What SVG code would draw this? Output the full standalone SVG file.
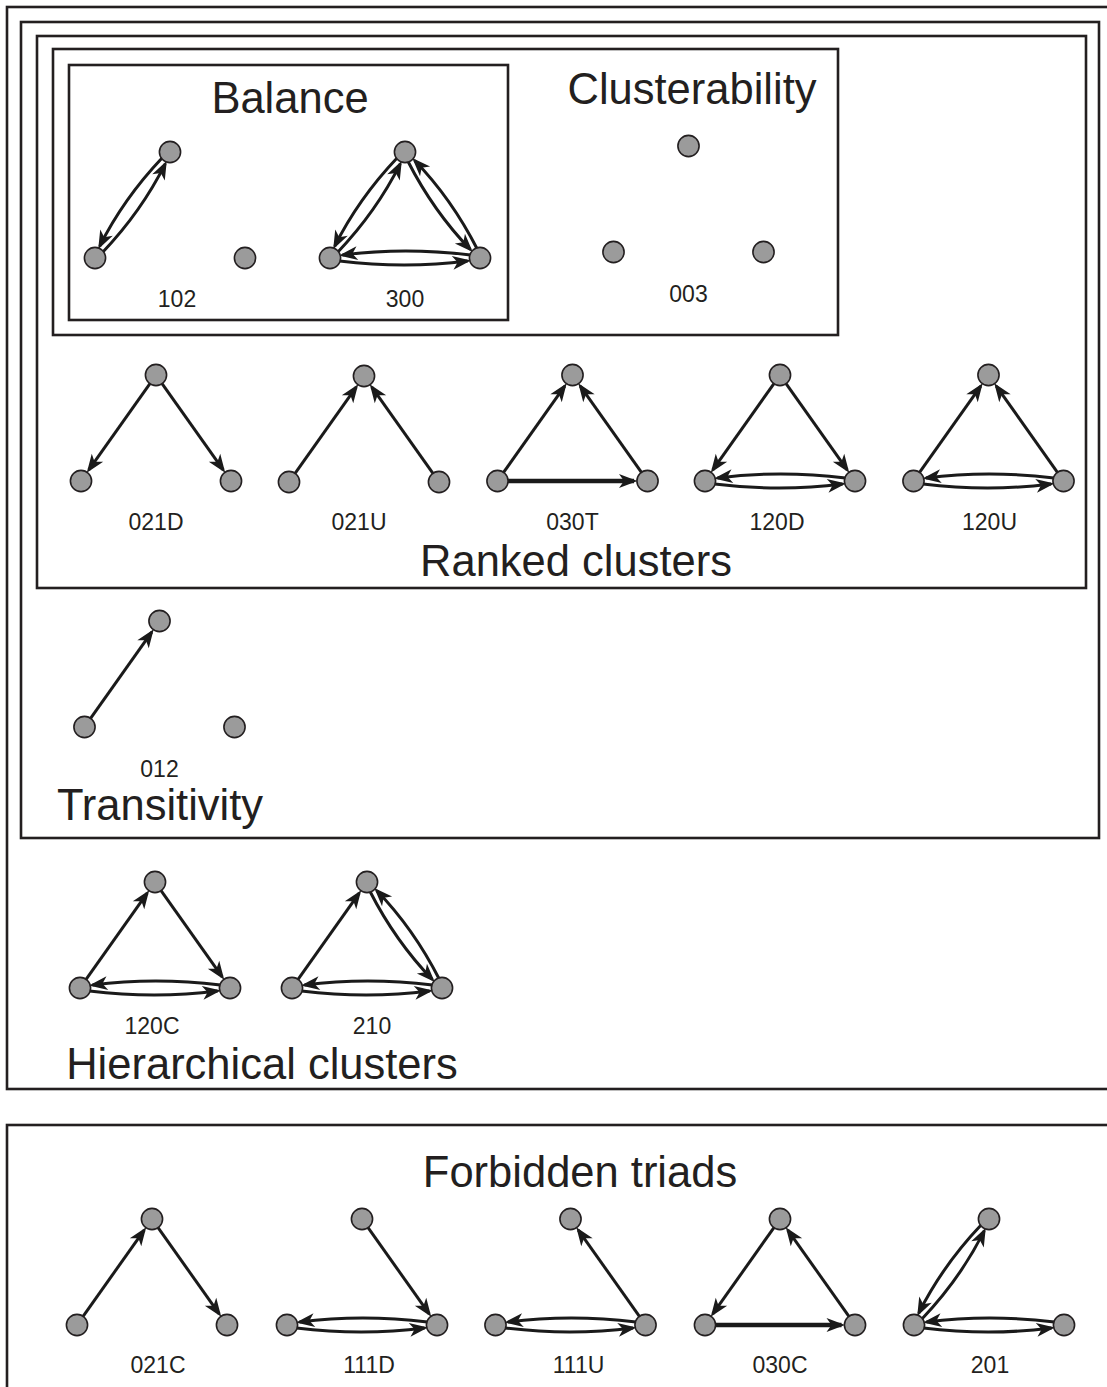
<svg xmlns="http://www.w3.org/2000/svg" width="1107" height="1387" viewBox="0 0 1107 1387">
<style>
.box{fill:none;stroke:#231f20;stroke-width:2.6}
.n{fill:#9b9b9b;stroke:#231f20;stroke-width:1.6}
.e{fill:none;stroke:#1a1a1a;stroke-width:3;marker-end:url(#ah)}
.t{stroke-width:4.6}
.h{font-family:"Liberation Sans",Arial,sans-serif;font-size:43.5px;fill:#231f20;text-anchor:middle}
.l{font-family:"Liberation Sans",Arial,sans-serif;font-size:23px;fill:#231f20;text-anchor:middle}
</style>
<defs>
<marker id="ah" markerUnits="userSpaceOnUse" markerWidth="1" markerHeight="1" refX="0" refY="0" orient="auto" overflow="visible">
<path d="M3.5,0 L-15,-7 L-10,0 L-15,7 Z" fill="#1a1a1a"/>
</marker>
<circle id="nd" r="10.6" class="n"/>
</defs>
<rect width="1107" height="1387" fill="#fff"/>
<g id="frames">
<rect class="box" x="7" y="7" width="1110" height="1082"/>
<rect class="box" x="21" y="22" width="1078" height="816"/>
<rect class="box" x="37" y="36" width="1049" height="552"/>
<rect class="box" x="53" y="49" width="785" height="286"/>
<rect class="box" x="69" y="65" width="439" height="255"/>
<rect class="box" x="7" y="1125" width="1110" height="280"/>
</g>
<g id="titles">
<text class="h" x="290" y="113">Balance</text>
<text class="h" x="692" y="104">Clusterability</text>
<text class="h" x="576" y="576">Ranked clusters</text>
<text class="h" x="160" y="820">Transitivity</text>
<text class="h" x="262" y="1079">Hierarchical clusters</text>
<text class="h" x="580" y="1187">Forbidden triads</text>
</g>
<g id="connectors">
<g transform="translate(170,152)">
<path class="e" d="M-7.94,6.02 Q-46.48,46.65 -70.23,94.07"/>
<path class="e" d="M-67.06,99.98 Q-28.52,59.35 -4.77,11.94"/>
</g>
<g transform="translate(405,152)">
<path class="e" d="M-7.94,6.02 Q-46.48,46.65 -70.23,94.07"/>
<path class="e" d="M-67.06,99.98 Q-28.52,59.35 -4.77,11.94"/>
<path class="e" d="M3.04,9.49 Q28.52,59.35 65.33,97.53"/>
<path class="e" d="M71.96,96.51 Q46.48,46.65 9.67,8.47"/>
<path class="e" d="M-65.5,109 Q0,117 62.5,109"/>
<path class="e" d="M65.5,103 Q0,95 -62.5,103"/>
</g>
<g transform="translate(156,375)">
<path class="e" d="M-6.06,8.57 L-67.2,94.98"/>
<path class="e" d="M6.06,8.57 L67.2,94.98"/>
</g>
<g transform="translate(364,376)">
<path class="e" d="M-68.94,97.43 L-7.8,11.02"/>
<path class="e" d="M68.94,97.43 L7.8,11.02"/>
</g>
<g transform="translate(572.5,375)">
<path class="e" d="M-68.94,97.43 L-7.8,11.02"/>
<path class="e" d="M68.94,97.43 L7.8,11.02"/>
<path class="e t" d="M-64.5,106 L61.5,106"/>
</g>
<g transform="translate(780,375)">
<path class="e" d="M-6.06,8.57 L-67.2,94.98"/>
<path class="e" d="M6.06,8.57 L67.2,94.98"/>
<path class="e" d="M-65.5,109 Q0,117 62.5,109"/>
<path class="e" d="M65.5,103 Q0,95 -62.5,103"/>
</g>
<g transform="translate(988.5,375)">
<path class="e" d="M-68.94,97.43 L-7.8,11.02"/>
<path class="e" d="M68.94,97.43 L7.8,11.02"/>
<path class="e" d="M-65.5,109 Q0,117 62.5,109"/>
<path class="e" d="M65.5,103 Q0,95 -62.5,103"/>
</g>
<g transform="translate(159.5,621)">
<path class="e" d="M-68.94,97.43 L-7.8,11.02"/>
</g>
<g transform="translate(155,882)">
<path class="e" d="M-68.94,97.43 L-7.8,11.02"/>
<path class="e" d="M6.06,8.57 L67.2,94.98"/>
<path class="e" d="M-65.5,109 Q0,117 62.5,109"/>
<path class="e" d="M65.5,103 Q0,95 -62.5,103"/>
</g>
<g transform="translate(367,882)">
<path class="e" d="M-68.94,97.43 L-7.8,11.02"/>
<path class="e" d="M3.04,9.49 Q28.52,59.35 65.33,97.53"/>
<path class="e" d="M71.96,96.51 Q46.48,46.65 9.67,8.47"/>
<path class="e" d="M-65.5,109 Q0,117 62.5,109"/>
<path class="e" d="M65.5,103 Q0,95 -62.5,103"/>
</g>
<g transform="translate(152,1219)">
<path class="e" d="M-68.94,97.43 L-7.8,11.02"/>
<path class="e" d="M6.06,8.57 L67.2,94.98"/>
</g>
<g transform="translate(362,1219)">
<path class="e" d="M6.06,8.57 L67.2,94.98"/>
<path class="e" d="M-65.5,109 Q0,117 62.5,109"/>
<path class="e" d="M65.5,103 Q0,95 -62.5,103"/>
</g>
<g transform="translate(570.5,1219)">
<path class="e" d="M68.94,97.43 L7.8,11.02"/>
<path class="e" d="M-65.5,109 Q0,117 62.5,109"/>
<path class="e" d="M65.5,103 Q0,95 -62.5,103"/>
</g>
<g transform="translate(780,1219)">
<path class="e" d="M-6.06,8.57 L-67.2,94.98"/>
<path class="e t" d="M-64.5,106 L61.5,106"/>
<path class="e" d="M68.94,97.43 L7.8,11.02"/>
</g>
<g transform="translate(989,1219)">
<path class="e" d="M-7.94,6.02 Q-46.48,46.65 -70.23,94.07"/>
<path class="e" d="M-67.06,99.98 Q-28.52,59.35 -4.77,11.94"/>
<path class="e" d="M-65.5,109 Q0,117 62.5,109"/>
<path class="e" d="M65.5,103 Q0,95 -62.5,103"/>
</g>
</g>
<g id="triad-102" transform="translate(170,152)"><use href="#nd"/><use href="#nd" x="-75" y="106"/><use href="#nd" x="75" y="106"/><text class="l" x="7" y="155">102</text></g>
<g id="triad-300" transform="translate(405,152)"><use href="#nd"/><use href="#nd" x="-75" y="106"/><use href="#nd" x="75" y="106"/><text class="l" x="0" y="155">300</text></g>
<g id="triad-003" transform="translate(688.5,146)"><use href="#nd"/><use href="#nd" x="-75" y="106"/><use href="#nd" x="75" y="106"/><text class="l" x="0" y="156">003</text></g>
<g id="triad-021D" transform="translate(156,375)"><use href="#nd"/><use href="#nd" x="-75" y="106"/><use href="#nd" x="75" y="106"/><text class="l" x="0" y="155">021D</text></g>
<g id="triad-021U" transform="translate(364,376)"><use href="#nd"/><use href="#nd" x="-75" y="106"/><use href="#nd" x="75" y="106"/><text class="l" x="-5" y="154">021U</text></g>
<g id="triad-030T" transform="translate(572.5,375)"><use href="#nd"/><use href="#nd" x="-75" y="106"/><use href="#nd" x="75" y="106"/><text class="l" x="0" y="155">030T</text></g>
<g id="triad-120D" transform="translate(780,375)"><use href="#nd"/><use href="#nd" x="-75" y="106"/><use href="#nd" x="75" y="106"/><text class="l" x="-3" y="155">120D</text></g>
<g id="triad-120U" transform="translate(988.5,375)"><use href="#nd"/><use href="#nd" x="-75" y="106"/><use href="#nd" x="75" y="106"/><text class="l" x="1" y="155">120U</text></g>
<g id="triad-012" transform="translate(159.5,621)"><use href="#nd"/><use href="#nd" x="-75" y="106"/><use href="#nd" x="75" y="106"/><text class="l" x="0" y="156">012</text></g>
<g id="triad-120C" transform="translate(155,882)"><use href="#nd"/><use href="#nd" x="-75" y="106"/><use href="#nd" x="75" y="106"/><text class="l" x="-3" y="152">120C</text></g>
<g id="triad-210" transform="translate(367,882)"><use href="#nd"/><use href="#nd" x="-75" y="106"/><use href="#nd" x="75" y="106"/><text class="l" x="5" y="152">210</text></g>
<g id="triad-021C" transform="translate(152,1219)"><use href="#nd"/><use href="#nd" x="-75" y="106"/><use href="#nd" x="75" y="106"/><text class="l" x="6" y="154">021C</text></g>
<g id="triad-111D" transform="translate(362,1219)"><use href="#nd"/><use href="#nd" x="-75" y="106"/><use href="#nd" x="75" y="106"/><text class="l" x="7" y="154">111D</text></g>
<g id="triad-111U" transform="translate(570.5,1219)"><use href="#nd"/><use href="#nd" x="-75" y="106"/><use href="#nd" x="75" y="106"/><text class="l" x="8" y="154">111U</text></g>
<g id="triad-030C" transform="translate(780,1219)"><use href="#nd"/><use href="#nd" x="-75" y="106"/><use href="#nd" x="75" y="106"/><text class="l" x="0" y="154">030C</text></g>
<g id="triad-201" transform="translate(989,1219)"><use href="#nd"/><use href="#nd" x="-75" y="106"/><use href="#nd" x="75" y="106"/><text class="l" x="1" y="154">201</text></g>
</svg>
